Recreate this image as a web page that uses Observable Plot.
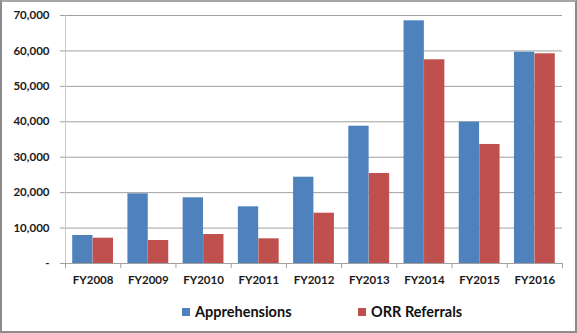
<!DOCTYPE html>
<html>
<head>
<meta charset="utf-8">
<script src="https://cdn.jsdelivr.net/npm/d3@7"></script>
<script src="https://cdn.jsdelivr.net/npm/@observablehq/plot@0.6"></script>
<style>
  html, body { margin: 0; padding: 0; background: #fff; }
  #wrap { position: relative; width: 577px; height: 333px; overflow: hidden; font-family: Lato, "Liberation Sans", sans-serif; }
  #frame { position: absolute; left: 0; top: 0; width: 573px; height: 329px; border-left: 2px solid #8c8c8c; border-top: 2px solid #a6a6a6; border-right: 2px solid #8c8c8c; border-bottom: 2px solid #8c8c8c; pointer-events: none; }
  #chart { position: absolute; left: 0; top: 0; }
  #legend { position: absolute; left: 0; top: 303px; width: 577px; height: 20px; }
  .item { position: absolute; top: 0; display: flex; align-items: center; font-weight: bold; font-size: 14.5px; color: #111; }
  .sw { width: 8px; height: 8px; margin-right: 5px; }
</style>
</head>
<body>
<div id="wrap">
  <div id="chart"></div>
  <div id="legend">
    <div class="item" style="left:182px"><span class="sw" style="background:#4F81BD"></span>Apprehensions</div>
    <div class="item" style="left:358px"><span class="sw" style="background:#C0504D"></span>ORR Referrals</div>
  </div>
  <div id="frame"></div>
</div>
<script>
const categories = ["FY2008","FY2009","FY2010","FY2011","FY2012","FY2013","FY2014","FY2015","FY2016"];
const apprehensions = [7900, 19670, 18540, 16000, 24360, 38750, 68500, 39900, 59640];
const orrReferrals = [7150, 6490, 8180, 6970, 14200, 25400, 57500, 33600, 59190];
const yTicks = [0, 10000, 20000, 30000, 40000, 50000, 60000, 70000];

const rows = categories.map((c, i) => ({i, c, a: apprehensions[i], r: orrReferrals[i]}));
const fmt = d => d === 0 ? "-" : d3.format(",")(d);

const plot = Plot.plot({
  width: 577,
  height: 300,
  marginLeft: 65,
  marginRight: 15,
  marginTop: 15,
  marginBottom: 37,
  style: {fontFamily: "Lato, 'Liberation Sans', sans-serif", fontSize: "11px", fontWeight: "bold", color: "#1a1a1a", background: "transparent"},
  x: {domain: [0, categories.length], axis: null, label: null},
  y: {domain: [0, 70000], axis: null, label: null},
  marks: [
    Plot.gridY(yTicks, {stroke: "#a0a0a0", strokeOpacity: 1, strokeWidth: 1}),
    Plot.ruleX([0], {stroke: "#c8c8c8"}),
    Plot.rectY(rows, {x1: "i", x2: d => d.i + 1, y: "a", fill: "#4F81BD", insetLeft: 7.2, insetRight: 27.7}),
    Plot.rectY(rows, {x1: "i", x2: d => d.i + 1, y: "r", fill: "#C0504D", insetLeft: 27.7, insetRight: 7.2}),
    Plot.ruleY([0], {stroke: "#a0a0a0"}),
    Plot.axisY({ticks: yTicks, tickSize: 5, tickPadding: 11, tickFormat: fmt, stroke: "#a0a0a0", fontSize: 11.5, fontWeight: "bold", fill: "#1a1a1a", label: null}),
    Plot.axisX({ticks: d3.range(categories.length + 1), tickSize: 5, tickFormat: () => "", stroke: "#a0a0a0", label: null}),
    Plot.axisX({ticks: d3.range(categories.length).map(i => i + 0.5), tickSize: 0, tickPadding: 12, tickFormat: d => categories[Math.floor(d)], fontSize: 11.5, fontWeight: "bold", fill: "#1a1a1a", label: null})
  ]
});
document.getElementById("chart").appendChild(plot);
</script>
</body>
</html>
